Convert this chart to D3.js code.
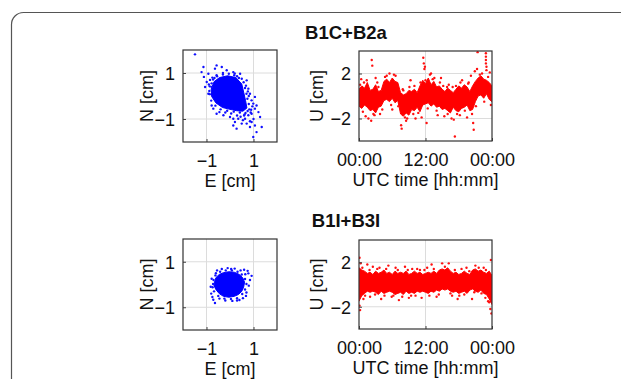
<!DOCTYPE html>
<html>
<head>
<meta charset="utf-8">
<script src="https://cdn.jsdelivr.net/npm/d3@7"></script>
<style>
  body { margin: 0; background: #fff; }
  svg { display: block; }
  text { font-family: "Liberation Sans", Arial, sans-serif; fill: #111; }
</style>
</head>
<body>
<svg id="chart"></svg>
<script>
// panel titles
const titles = ["B1C+B2a", "B1I+B3I"];

// tick values / labels
const scatterTicks = [-1, 1];
const uTicks = [2, -2];
const timeTicks = [0, 12, 24];
const timeTickLabels = ["00:00", "12:00", "00:00"];

// --- B1C+B2a horizontal scatter [E, N] in cm ---
// outline of the dense core
const coreA = [[-0.68,0.62],[-0.45,0.80],[-0.1,0.88],[0.25,0.80],[0.50,0.52],[0.58,0.17],[0.66,-0.19],
  [0.72,-0.52],[0.55,-0.66],[0.28,-0.64],[0,-0.58],[-0.32,-0.50],[-0.60,-0.30],[-0.78,-0.02],[-0.80,0.30]];
const pointsA = [[-1.49,1.81],[-1.13,1.26],[-1.21,1.04],[-1.11,0.83],[-0.92,0.97],[-0.57,1.33],[-0.35,1.26],
  [-0.64,1.19],[-0.14,1.12],[0.14,1.04],[-0.99,0.61],[-1.06,0.39],[-0.92,0.10],[-0.78,-0.41],[-0.71,-0.55],
  [-0.57,-0.77],[-0.28,-0.84],[0,-0.91],[0.14,-0.99],[0.21,-1.13],[0.35,-0.99],[0.64,-0.99],[0.78,-0.84],
  [0.92,-0.77],[1.06,-0.55],[1.21,-0.70],[0.99,-0.33],[0.92,-0.19],[1.06,-0.04],[1.13,-0.41],[1.28,-0.91],
  [0.92,-1.13],[1.06,-1.28],[0.85,-1.35],[1.13,-1.57],[0.99,-1.78],[1.35,-1.35],[0.71,-1.20],[0.50,-1.20],
  [0.28,-1.42],[0.14,-1.28],[0.78,0.32],[0.85,0.10],[0.71,0.68],[0.43,0.97],[-0.78,0.39],[-0.57,0.90],
  [0.6,-0.85],[0.45,-0.9],[0.9,-0.6],[0.75,-0.65],[-0.9,0.5],[-0.75,0.8],[-0.3,1.0],[0.5,0.75],[0.8,0.0],
  [0.95,-0.45],[1.0,-1.0],[0.55,-1.05],[-0.45,-0.7],[0.3,-0.85],[0.85,-1.1],[-0.85,0.7],[0.2,0.98],[0.68,0.45],
  // fuzzy rim of the core
  [-0.72,0.72],[-0.55,0.86],[-0.30,0.93],[-0.05,0.97],[0.18,0.90],[0.38,0.78],[0.58,0.60],[0.64,0.35],
  [0.70,0.10],[0.74,-0.12],[0.80,-0.35],[0.82,-0.58],[0.66,-0.74],[0.42,-0.72],[0.16,-0.68],[-0.12,-0.64],
  [-0.40,-0.58],[-0.62,-0.42],[-0.80,-0.20],[-0.86,0.08],[-0.86,0.42],[-0.78,0.55],[0.62,-0.80],[0.88,-0.72],
  [-0.66,0.78],[0.30,0.86],[0.76,0.20],[-0.20,-0.72],[0.05,-0.76],[-0.88,0.22]];

// --- B1I+B3I horizontal scatter ---
const coreB = [[-0.66,0.10],[-0.60,0.30],[-0.46,0.44],[-0.28,0.52],[-0.05,0.56],[0.18,0.54],[0.38,0.45],
  [0.54,0.30],[0.62,0.10],[0.58,-0.12],[0.50,-0.30],[0.36,-0.44],[0.18,-0.52],[-0.05,-0.56],[-0.28,-0.52],
  [-0.46,-0.40],[-0.60,-0.22],[-0.68,-0.05]];
const pointsB = [[0.92,0.38],[0.78,0.49],[0.85,0.2],[0.8,-0.05],[0.7,-0.35],[0.55,-0.6],[0.3,-0.7],[0.1,-0.72],
  [-0.2,-0.7],[-0.45,-0.62],[-0.71,-0.67],[-0.64,-0.81],[-0.8,-0.4],[-0.82,-0.1],[-0.78,0.25],[-0.6,0.5],
  [-0.35,0.68],[-0.1,0.72],[0.2,0.7],[0.45,0.62],[0.65,0.45],[0.75,0.6],[0.6,0.65],[-0.75,-0.55],[0.4,-0.68],
  [0.68,-0.5],[-0.55,0.62],[0.05,0.68],
  [-0.70,0.20],[-0.62,0.40],[-0.42,0.56],[-0.18,0.62],[0.08,0.62],[0.32,0.56],[0.50,0.44],[0.64,0.24],
  [0.70,0.02],[0.64,-0.22],[0.52,-0.42],[0.30,-0.60],[0.04,-0.64],[-0.24,-0.62],[-0.50,-0.50],[-0.68,-0.30],
  [-0.74,-0.12],[-0.72,0.02]];

// --- U time series, every 30 min: dense band top / bottom (cm) ---
const hours = [0,0.5,1,1.5,2,2.5,3,3.5,4,4.5,5,5.5,6,6.5,7,7.5,8,8.5,9,9.5,10,10.5,11,11.5,12,
  12.5,13,13.5,14,14.5,15,15.5,16,16.5,17,17.5,18,18.5,19,19.5,20,20.5,21,21.5,22,22.5,23,23.5,24];
const upperA = [0.6,0.9,0.7,1.2,0.5,0.6,1.0,0.4,0.5,1.3,1.5,1.2,1.6,1.3,1.2,0.3,0.1,0.2,0.5,0.4,0.6,0.3,0.9,1.4,1.1,
  1.6,1.0,1.3,0.8,0.9,0.6,0.4,0.7,0.5,0.3,0.6,0.9,0.7,1.0,0.8,0.4,0.9,1.3,1.6,1.8,1.5,1.4,1.2,0.9];
const lowerA = [-0.9,-1.1,-0.8,-1.0,-1.3,-1.2,-1.5,-1.0,-0.9,-0.4,-0.3,-0.5,-0.2,-0.6,-0.4,-1.6,-1.8,-1.5,-1.7,-1.2,-1.3,-1.0,-1.4,-0.8,-0.7,
  -0.6,-0.9,-0.7,-1.0,-0.9,-1.2,-1.1,-1.3,-1.5,-1.0,-1.3,-1.4,-1.1,-1.0,-0.8,-1.3,-1.2,-0.5,0.0,0.1,-0.2,0.2,-0.3,-0.5];
const upperB = [1.5,1.3,1.2,1.0,1.1,0.9,1.2,1.0,1.1,1.3,1.0,1.1,0.9,1.2,1.0,1.1,1.0,1.2,0.9,1.0,1.2,1.0,1.1,0.9,1.0,
  1.1,1.0,1.2,1.0,1.3,1.4,1.3,1.5,1.2,1.0,1.1,0.9,1.0,1.2,1.0,0.9,1.3,1.4,1.2,1.3,1.1,1.0,1.2,0.8];
const lowerB = [-1.5,-1.0,-0.8,-0.6,-0.7,-0.6,-0.7,-0.9,-0.6,-0.8,-0.7,-0.6,-0.7,-0.9,-0.8,-0.7,-0.9,-0.6,-0.8,-0.7,-0.8,-0.6,-0.7,-0.6,-0.7,
  -0.8,-0.6,-0.7,-0.5,-0.6,-0.4,-0.5,-0.4,-0.6,-0.7,-0.6,-0.8,-0.7,-0.6,-0.8,-0.5,-0.4,-0.6,-0.7,-0.5,-0.8,-0.9,-1.3,-1.8];

// scattered samples outside / on the rim of the dense band [hour, U]
const outliersA = [[0.4,1.5],[1.2,-1.8],[1.7,-2.0],[2.3,3.2],[2.4,2.7],[2.2,-2.2],[3.0,1.6],[5.5,2.0],[6.6,1.8],
  [7.6,-2.6],[7.7,-2.9],[8.5,-2.2],[9.3,1.4],[10.2,-2.0],[11.3,-1.9],[11.6,3.4],[11.7,2.9],[11.8,2.4],[11.9,2.6],
  [12.2,-2.4],[13.0,2.0],[14.8,1.6],[15.4,-1.8],[16.7,-2.0],[17.1,-2.1],[17.3,-3.6],[18.6,1.4],[19.5,-1.9],
  [20.6,-2.4],[20.7,-3.0],[20.9,2.2],[21.3,2.4],[21.4,3.9],[22.9,3.8],[22.9,3.5],[22.9,3.2],[22.9,2.9],
  [23.0,2.6],[23.0,2.3],[23.6,2.1],[20.2,1.8],[3.8,-1.6],[14.2,-1.7],[6.0,-1.2],[4.7,1.7],[8.0,0.5],[9.8,-1.6],
  [13.6,1.6],[16.2,1.0],[18.2,-1.7],[19.8,1.2],[0.9,1.2],[2.8,-1.7],[12.8,1.9],[15.9,0.8],[22.2,2.0],
  [0.2,1.0],[0.7,-1.4],[1.4,1.4],[2.6,-1.6],[3.3,1.2],[4.2,-1.2],[5.0,1.8],[5.8,-0.8],[6.3,1.9],[7.1,-0.9],
  [7.9,0.6],[8.7,-2.0],[9.1,0.8],[10.0,0.9],[10.7,-1.5],[11.1,1.2],[12.4,-1.1],[13.3,1.5],[14.0,-1.3],
  [14.6,1.2],[15.2,0.9],[16.0,-1.6],[16.9,0.8],[17.7,-1.6],[18.3,1.2],[19.1,-1.3],[19.7,1.1],[20.4,-1.6],
  [21.1,-0.9],[21.8,1.9],[22.6,-0.5],[23.3,1.7],[23.8,-0.8],[3.5,0.8],[12.0,1.4],[17.5,0.9],[8.3,-1.9]];
const outliersB = [[0.1,2.4],[0.1,-1.9],[0.2,-2.3],[0.3,1.9],[0.8,-1.3],[1.5,1.8],[3.7,1.5],[4.0,-1.3],[5.3,1.7],
  [7.2,-1.4],[9.0,-1.2],[10.5,1.4],[11.3,-1.2],[12.3,1.5],[14.0,-1.1],[15.0,1.9],[16.2,1.9],[17.8,-1.3],
  [19.4,1.5],[20.4,-1.3],[21.0,1.7],[22.5,1.5],[23.3,-1.5],[23.7,-2.2],[23.9,-2.6],[23.8,2.2],[22.8,-1.2],
  [5.9,-1.1],[2.5,1.6],[8.3,1.6],[13.1,1.8],[6.6,1.5],[9.6,1.4],[18.5,1.4],[2.0,-1.1],[11.8,1.3],[16.8,-1.0],
  [0.6,1.5],[1.1,-1.0],[1.9,1.3],[2.9,-0.9],[3.3,1.4],[4.6,-1.0],[4.9,1.4],[6.2,-1.0],[7.0,1.3],[7.8,-1.1],
  [8.8,1.3],[9.4,-1.0],[10.2,-1.0],[11.0,1.3],[12.7,-1.0],[13.5,1.4],[14.4,-0.9],[15.5,1.6],[16.5,-0.8],
  [17.3,1.3],[18.1,-1.0],[19.0,-0.9],[19.9,1.2],[20.8,-0.7],[21.6,1.5],[22.1,-0.8],[22.9,1.3],[23.5,-1.6]];

const W = 621, H = 379;
const svg = d3.select("#chart").attr("width", W).attr("height", H);

// outer frame with rounded corner
svg.append("rect")
  .attr("x", 11.5).attr("y", 12.5)
  .attr("width", 700).attr("height", 500)
  .attr("rx", 12)
  .attr("fill", "none").attr("stroke", "#555").attr("stroke-width", 1.2);

const rows = [
  {title: titles[0], titleY: 39, sc: {x:183, y:50, w:94, h:92}, ts: {x:359, y:51, w:133, h:90},
   core: coreA, pts: pointsA, upper: upperA, lower: lowerA, out: outliersA},
  {title: titles[1], titleY: 227, sc: {x:183, y:239, w:94, h:91}, ts: {x:359, y:240, w:133, h:89},
   core: coreB, pts: pointsB, upper: upperB, lower: lowerB, out: outliersB}
];

const fontSize = 18;
let clipId = 0;

function frame(g, w, h) {
  const id = "clip" + (clipId++);
  g.append("clipPath").attr("id", id).append("rect").attr("width", w).attr("height", h);
  return id;
}

function grid(g, x, y, xs, ys, w, h) {
  g.selectAll(".gx").data(xs).enter().append("line")
    .attr("x1", d => x(d)).attr("x2", d => x(d)).attr("y1", 0).attr("y2", h)
    .attr("stroke", "#dcdcdc").attr("stroke-width", 1);
  g.selectAll(".gy").data(ys).enter().append("line")
    .attr("x1", 0).attr("x2", w).attr("y1", d => y(d)).attr("y2", d => y(d))
    .attr("stroke", "#dcdcdc").attr("stroke-width", 1);
}

function axes(g, x, y, w, h, xt, yt, xfmt, xlabel, ylabel, ylabelX) {
  const xa = d3.axisBottom(x).tickValues(xt).tickFormat(xfmt).tickSizeInner(-3).tickSizeOuter(0).tickPadding(12);
  const ya = d3.axisLeft(y).tickValues(yt).tickFormat(d3.format("d")).tickSizeInner(-3).tickSizeOuter(0).tickPadding(8);
  const gx = g.append("g").attr("transform", `translate(0,${h})`).call(xa);
  const gy = g.append("g").call(ya);
  [gx, gy].forEach(a => {
    a.select(".domain").remove();
    a.selectAll("line").attr("stroke", "#444");
    a.selectAll("text").attr("font-size", fontSize).attr("fill", "#111")
      .style("font-family", '"Liberation Sans", Arial, sans-serif');
  });
  gy.selectAll("text").attr("dy", "0.36em");
  // box
  g.append("rect").attr("width", w).attr("height", h)
    .attr("fill", "none").attr("stroke", "#333").attr("stroke-width", 1.2);
  g.append("text").attr("x", w / 2).attr("y", h + 45)
    .attr("text-anchor", "middle").attr("font-size", fontSize).text(xlabel);
  g.append("text").attr("transform", `translate(${ylabelX},${h / 2}) rotate(-90)`)
    .attr("text-anchor", "middle").attr("font-size", fontSize).text(ylabel);
}

rows.forEach(r => {
  svg.append("text").attr("x", 346).attr("y", r.titleY)
    .attr("text-anchor", "middle").attr("font-size", 18.5).attr("font-weight", "bold").text(r.title);

  // horizontal scatter
  const s = r.sc;
  const gs = svg.append("g").attr("transform", `translate(${s.x},${s.y})`);
  const xs = d3.scaleLinear().domain([-2, 2]).range([0, s.w]);
  const ys = d3.scaleLinear().domain([-2, 2]).range([s.h, 0]);
  gs.append("rect").attr("width", s.w).attr("height", s.h).attr("fill", "#fff");
  grid(gs, xs, ys, scatterTicks, scatterTicks, s.w, s.h);
  const cs = frame(gs, s.w, s.h);
  const ms = gs.append("g").attr("clip-path", `url(#${cs})`);
  ms.append("path").datum(r.core)
    .attr("d", d3.line().x(d => xs(d[0])).y(d => ys(d[1])).curve(d3.curveLinearClosed))
    .attr("fill", "#0000ff").attr("stroke", "#0000ff").attr("stroke-width", 1);
  ms.selectAll("circle").data(r.pts).enter().append("circle")
    .attr("cx", d => xs(d[0])).attr("cy", d => ys(d[1])).attr("r", 1.2)
    .attr("fill", "#1010ff");
  axes(gs, xs, ys, s.w, s.h, scatterTicks, scatterTicks, d3.format("d"), "E [cm]", "N [cm]", -30);

  // U time series
  const t = r.ts;
  const gt = svg.append("g").attr("transform", `translate(${t.x},${t.y})`);
  const xt = d3.scaleLinear().domain([0, 24]).range([0, t.w]);
  const yt = d3.scaleLinear().domain([-4, 4]).range([t.h, 0]);
  gt.append("rect").attr("width", t.w).attr("height", t.h).attr("fill", "#fff");
  grid(gt, xt, yt, [12], uTicks, t.w, t.h);
  const ct = frame(gt, t.w, t.h);
  const mt = gt.append("g").attr("clip-path", `url(#${ct})`);
  mt.append("path").datum(hours)
    .attr("d", d3.area().x(d => xt(d)).y0((d, i) => yt(r.lower[i])).y1((d, i) => yt(r.upper[i])))
    .attr("fill", "#ff0000").attr("stroke", "#ff0000").attr("stroke-width", 1);
  mt.selectAll(".out").data(r.out).enter().append("circle")
    .attr("cx", d => xt(d[0])).attr("cy", d => yt(d[1])).attr("r", 1.2).attr("fill", "#ff1010");
  axes(gt, xt, yt, t.w, t.h, timeTicks, uTicks, (d, i) => timeTickLabels[i], "UTC time [hh:mm]", "U [cm]", -36);
});
</script>
</body>
</html>
